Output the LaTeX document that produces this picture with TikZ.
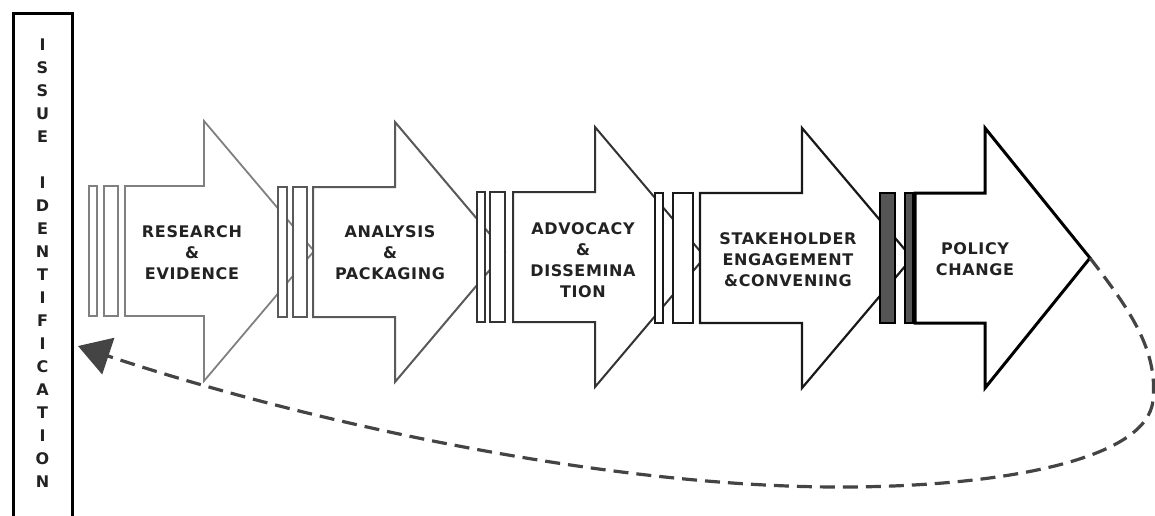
\documentclass[tikz,border=0pt]{standalone}
\usepackage{fontspec}
\newfontfamily\stagefont[LetterSpace=4]{DejaVu Sans}
\usetikzlibrary{arrows.meta}

\begin{document}
\begin{tikzpicture}[x=0.5pt, y=-0.5pt]
    \definecolor{dashColour}{HTML}{444444}
    \definecolor{textColour}{HTML}{222222}
    \definecolor{barColour}{HTML}{555555}

    \tikzset{
        stagetext/.style={font=\stagefont\bfseries\fontsize{8}{10.5}\selectfont, align=center, text=textColour, inner sep=0pt},
        issuetext/.style={font=\stagefont\bfseries\fontsize{8}{8}\selectfont, text=textColour, inner sep=0pt}
    }

    \useasboundingbox (0,0) rectangle (1155,515);

    % Issue identification box (runs off the bottom)
    \draw[line width=1.5pt] (13,520) -- (13,13) -- (72,13) -- (72,520);
    \foreach \ch/\s in {I/0,S/1,S/2,U/3,E/4,I/6,D/7,E/8,N/9,T/10,I/11,F/12,I/13,C/14,A/15,T/16,I/17,O/18,N/19}
        \node[issuetext] (letter\s) at (42.5,45+23*\s) {\ch};

    % Stages: bars first, then the arrow on top
    \foreach \xb/\xs/\xt/\cy/\ba/\bb/\bc/\bd/\col/\bfill/\lw [count=\i] in {
        125/204/314/251/89/97/104/118/gray/white/0.9pt,
        313/395/505/252/278/287/293/307/black!65/white/1pt,
        513/595/705/257/477/485/490/505/black!80/white/1pt,
        700/802/912/258/655/663/673/693/black!90/white/1.1pt,
        915/985/1090/258/880/895/905/913/black/barColour/1.5pt}
    {
        \draw[draw=\col, fill=\bfill, line width=0.8pt] (\ba,\cy-65) rectangle (\bb,\cy+65);
        \draw[draw=\col, fill=\bfill, line width=0.8pt] (\bc,\cy-65) rectangle (\bd,\cy+65);
        \draw[draw=\col, fill=white, line width=\lw, line join=miter]
            (\xb,\cy-65) -- (\xs,\cy-65) -- (\xs,\cy-130) -- (\xt,\cy)
            -- (\xs,\cy+130) -- (\xs,\cy+65) -- (\xb,\cy+65) -- cycle;
        \coordinate (tip\i) at (\xt,\cy);
    }

    % Stage labels
    \node[stagetext] (research) at (192,253) {RESEARCH\\\&\\EVIDENCE};
    \node[stagetext] (analysis) at (390,253) {ANALYSIS\\\&\\PACKAGING};
    \node[stagetext] (advocacy) at (583,260) {ADVOCACY\\\&\\DISSEMINA\\TION};
    \node[stagetext] (stakeholder) at (788,260) {STAKEHOLDER\\ENGAGEMENT\\\&CONVENING};
    \node[stagetext] (policy) at (975,259) {POLICY\\CHANGE};

    % Loop back to issue identification
    \coordinate (loopend) at (78,346);
    \draw[dashColour, line width=1.6pt, dash pattern=on 7.5pt off 4pt, -{Triangle[length=16pt,width=19pt]}]
        (tip5) .. controls (1130,310) and (1158,350) .. (1153,400)
        .. controls (1148,460) and (1000,487) .. (840,487)
        .. controls (600,487) and (300,420) .. (loopend);

\end{tikzpicture}
\end{document}
